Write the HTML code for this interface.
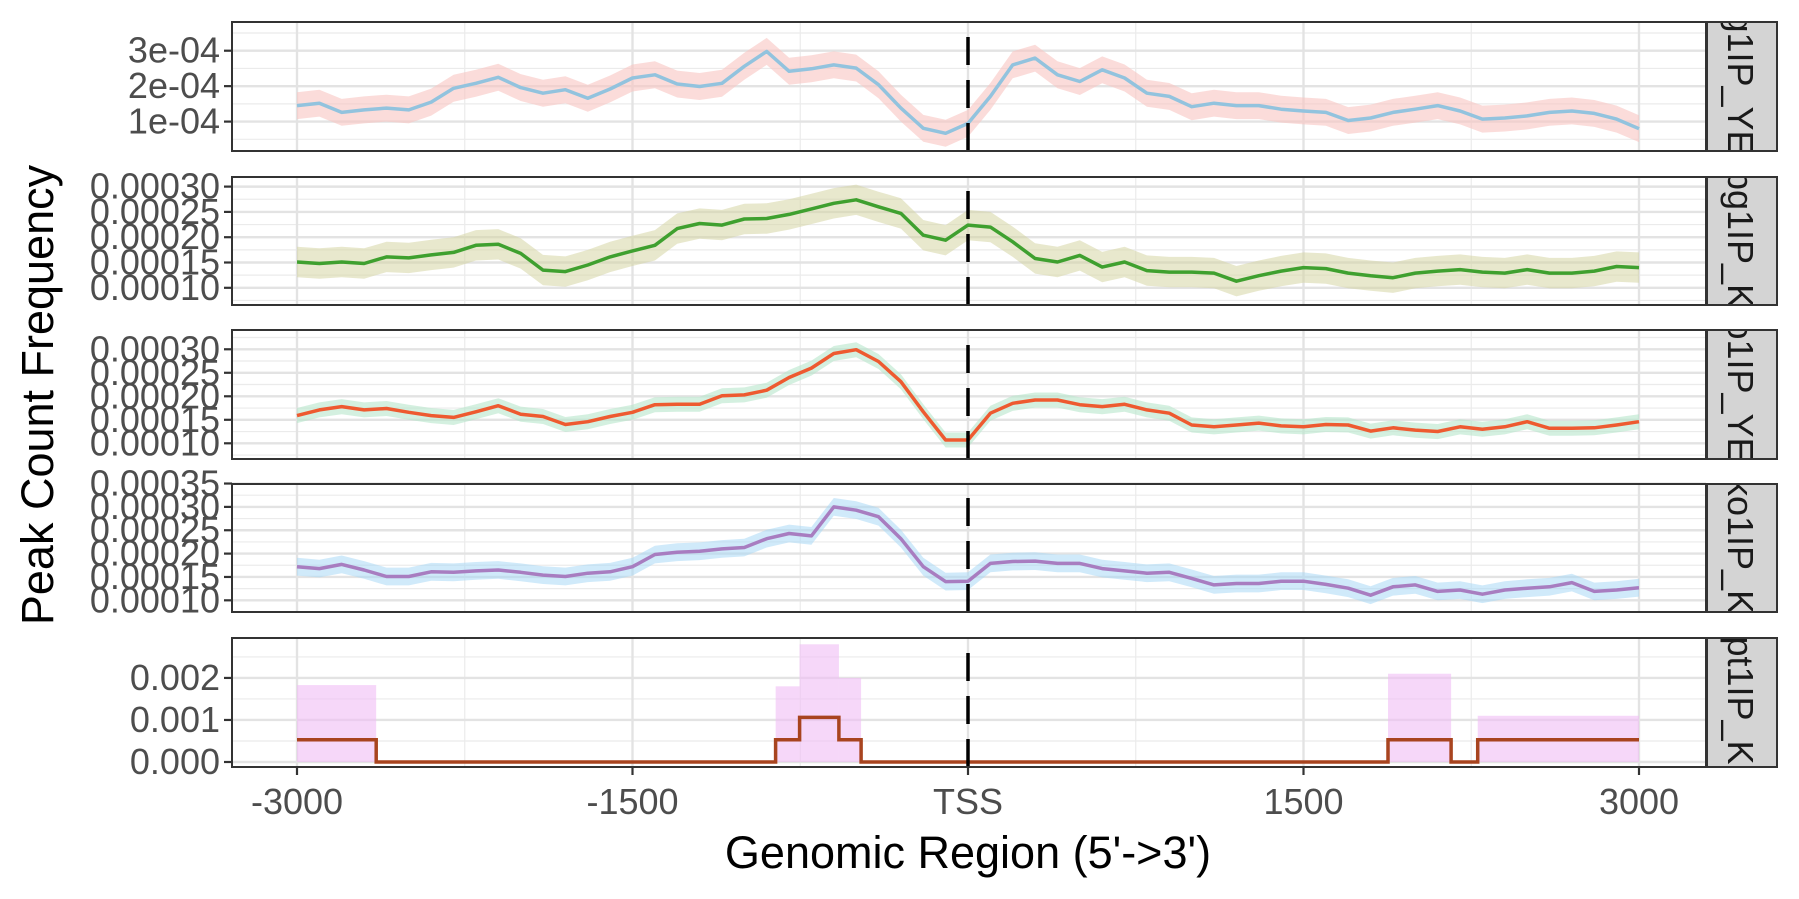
<!DOCTYPE html>
<html><head><meta charset="utf-8"><title>Peak Count Frequency profile</title>
<style>
html,body{margin:0;padding:0;background:#fff;}
svg{display:block;}
text{font-family:"Liberation Sans",Arial,sans-serif;}
</style></head>
<body>
<svg id="chart" width="1799" height="899" viewBox="0 0 1799 899" xmlns="http://www.w3.org/2000/svg">
<rect x="0" y="0" width="1799" height="899" fill="#fff"/>
<g id="panels"></g>
<text x="968" y="868" text-anchor="middle" font-size="45" fill="#000">Genomic Region (5'-&gt;3')</text>
<text transform="translate(53,395) rotate(-90)" text-anchor="middle" font-size="45" fill="#000">Peak Count Frequency</text>
</svg>
<script>
// ---- data ----
const positions = [-3000,-2900,-2800,-2700,-2600,-2500,-2400,-2300,-2200,-2100,-2000,-1900,-1800,-1700,-1600,-1500,-1400,-1300,-1200,-1100,-1000,-900,-800,-700,-600,-500,-400,-300,-200,-100,0,100,200,300,400,500,600,700,800,900,1000,1100,1200,1300,1400,1500,1600,1700,1800,1900,2000,2100,2200,2300,2400,2500,2600,2700,2800,2900,3000];
const xTickValues = [-3000,-1500,0,1500,3000];
const xTickLabels = ["-3000","-1500","TSS","1500","3000"];
const xMinorValues = [-2250,-750,750,2250];
const sampleNames = ["Spg1IP_YEPD","Spg1IP_KO","Sko1IP_YEPD","Sko1IP_KO","Apt1IP_KO"];
// series in units of 1e-4
const seriesP1 = [1.45,1.52,1.26,1.33,1.38,1.33,1.55,1.94,2.08,2.25,1.96,1.8,1.9,1.66,1.92,2.23,2.32,2.06,1.99,2.08,2.56,2.98,2.42,2.49,2.6,2.51,2.04,1.38,0.81,0.67,0.95,1.71,2.6,2.79,2.32,2.13,2.46,2.23,1.8,1.71,1.42,1.52,1.45,1.45,1.35,1.3,1.26,1.03,1.1,1.26,1.35,1.45,1.3,1.07,1.1,1.16,1.26,1.3,1.23,1.07,0.8];
const seriesP2 = [1.51,1.48,1.51,1.48,1.61,1.59,1.65,1.7,1.84,1.86,1.68,1.35,1.32,1.45,1.61,1.73,1.84,2.17,2.27,2.24,2.36,2.37,2.45,2.56,2.67,2.74,2.6,2.47,2.04,1.94,2.24,2.2,1.91,1.58,1.51,1.64,1.41,1.51,1.34,1.31,1.31,1.29,1.13,1.24,1.33,1.4,1.38,1.29,1.24,1.2,1.29,1.33,1.36,1.31,1.29,1.36,1.29,1.29,1.33,1.42,1.4];
const seriesP3 = [1.59,1.71,1.78,1.71,1.74,1.66,1.59,1.55,1.67,1.8,1.62,1.57,1.4,1.46,1.57,1.66,1.82,1.83,1.83,2.01,2.03,2.13,2.4,2.6,2.91,2.99,2.74,2.31,1.67,1.07,1.07,1.64,1.85,1.92,1.92,1.82,1.78,1.83,1.71,1.64,1.39,1.35,1.39,1.43,1.37,1.35,1.4,1.39,1.26,1.33,1.28,1.25,1.35,1.3,1.35,1.46,1.32,1.32,1.33,1.39,1.46];
const seriesP4 = [1.72,1.68,1.77,1.65,1.51,1.51,1.61,1.6,1.63,1.65,1.6,1.54,1.51,1.58,1.61,1.72,1.98,2.03,2.05,2.1,2.13,2.32,2.43,2.38,3.0,2.93,2.79,2.32,1.72,1.4,1.41,1.79,1.83,1.84,1.79,1.79,1.68,1.63,1.58,1.6,1.47,1.33,1.36,1.36,1.41,1.41,1.34,1.26,1.11,1.29,1.33,1.19,1.22,1.13,1.22,1.26,1.29,1.38,1.19,1.22,1.27];
const ribbonHalfWidth = [0.38,0.3,0.16,0.19];
// panel 5 step bins
const stepStart = [-3000,-2646,-860,-753,-577,-478,1878,2160,2279];
const stepEnd   = [-2646,-860,-753,-577,-478,1878,2160,2279,3000];
const stepValue = [0.00053,0,0.00053,0.00106,0.00053,0,0.00053,0,0.00053];
const stepUpper = [0.00183,0,0.0018,0.0028,0.0020,0,0.0021,0,0.0011];
// y ticks
const yTicksP1 = [1e-4,2e-4,3e-4];
const yLabelsP1 = ["1e-04","2e-04","3e-04"];
const yTicksP2 = [1e-4,1.5e-4,2e-4,2.5e-4,3e-4];
const yLabelsP2 = ["0.00010","0.00015","0.00020","0.00025","0.00030"];
const yTicksP4 = [1e-4,1.5e-4,2e-4,2.5e-4,3e-4,3.5e-4];
const yLabelsP4 = ["0.00010","0.00015","0.00020","0.00025","0.00030","0.00035"];
const yTicksP5 = [0,0.001,0.002];
const yLabelsP5 = ["0.000","0.001","0.002"];

// ---- layout ----
const NS = "http://www.w3.org/2000/svg";
const panelsG = document.getElementById('panels');
const L = 232, R = 1706;
const xs = v => 297 + (v + 3000) * (1639 - 297) / 6000;
const panels = [
  {top:22, bot:151, dom:[0.17e-4,3.81e-4], series:seriesP1, line:"#92C3DE", fill:"#F9C4C2", fillOp:0.6, ticks:yTicksP1, labels:yLabelsP1},
  {top:177, bot:305, dom:[0.66e-4,3.19e-4], series:seriesP2, line:"#3FA02F", fill:"#D6D6A4", fillOp:0.55, ticks:yTicksP2, labels:yLabelsP2},
  {top:330, bot:459, dom:[0.666e-4,3.41e-4], series:seriesP3, line:"#EE5A30", fill:"#B8E6CC", fillOp:0.6, ticks:yTicksP2, labels:yLabelsP2},
  {top:484, bot:612, dom:[0.75e-4,3.49e-4], series:seriesP4, line:"#A87DC0", fill:"#A9D8F5", fillOp:0.55, ticks:yTicksP4, labels:yLabelsP4},
  {top:638, bot:767, dom:[-0.000119,0.00295], series:null, line:"#A8441F", fill:"#F0BDF5", fillOp:0.6, ticks:yTicksP5, labels:yLabelsP5}
];
function mk(tag, attrs, parent){
  const e = document.createElementNS(NS, tag);
  for (const k in attrs) e.setAttribute(k, attrs[k]);
  (parent||panelsG).appendChild(e);
  return e;
}
panels.forEach((p, i) => {
  const ys = v => p.bot - (v - p.dom[0]) / (p.dom[1] - p.dom[0]) * (p.bot - p.top);
  const g = mk('g', {});
  
  
  mk('rect', {x:L, y:p.top, width:R-L, height:p.bot-p.top, fill:'#fff'}, g);
  const step = p.ticks[1] - p.ticks[0];
  for (let v = p.ticks[0] - step*4.5; v < p.dom[1]; v += step) {
    if (v <= p.dom[0]) continue;
    const l = mk('line', {x1:L, x2:R, y1:ys(v), y2:ys(v), stroke:'#EBEBEB', 'stroke-width':1.2}, g);
    
    
  }
  xMinorValues.forEach(v => {
    const l = mk('line', {x1:xs(v), x2:xs(v), y1:p.top, y2:p.bot, stroke:'#EBEBEB', 'stroke-width':1.2}, g);
    
    
  });
  p.ticks.forEach(v => {
    const l = mk('line', {x1:L, x2:R, y1:ys(v), y2:ys(v), stroke:'#E3E3E3', 'stroke-width':2.4}, g);
    
    
  });
  xTickValues.forEach(v => {
    const l = mk('line', {x1:xs(v), x2:xs(v), y1:p.top, y2:p.bot, stroke:'#E3E3E3', 'stroke-width':2.4}, g);
    
    
  });
  if (p.series) {
    const hw = ribbonHalfWidth[i];
    let up = '', lo = '';
    p.series.forEach((v, k) => { up += (k ? 'L' : 'M') + xs(positions[k]).toFixed(1) + ',' + ys((v + hw) * 1e-4).toFixed(1); });
    for (let k = p.series.length - 1; k >= 0; k--) lo += 'L' + xs(positions[k]).toFixed(1) + ',' + ys((p.series[k] - hw) * 1e-4).toFixed(1);
    const rib = mk('path', {d: up + lo + 'Z', fill:p.fill, 'fill-opacity':p.fillOp, stroke:'none'}, g);
    
    
    let d = '';
    p.series.forEach((v, k) => { d += (k ? 'L' : 'M') + xs(positions[k]).toFixed(1) + ',' + ys(v * 1e-4).toFixed(1); });
    const ln = mk('path', {d, fill:'none', stroke:p.line, 'stroke-width':3.5, 'stroke-linejoin':'round'}, g);
    
    
  } else {
    stepStart.forEach((s, k) => {
      if (stepUpper[k] > 0) {
        const r = mk('rect', {x:xs(s), y:ys(stepUpper[k]), width:xs(stepEnd[k]) - xs(s), height:ys(0) - ys(stepUpper[k]), fill:p.fill, 'fill-opacity':p.fillOp}, g);
        
        
      }
    });
    let d = '';
    stepStart.forEach((s, k) => {
      d += (k ? 'L' : 'M') + xs(s).toFixed(1) + ',' + ys(stepValue[k]).toFixed(1);
      d += 'L' + xs(stepEnd[k]).toFixed(1) + ',' + ys(stepValue[k]).toFixed(1);
    });
    const ln = mk('path', {d, fill:'none', stroke:p.line, 'stroke-width':3.5, 'stroke-linejoin':'miter'}, g);
    
    
  }
  const vl = mk('line', {x1:xs(0), x2:xs(0), y1:p.bot, y2:p.top, stroke:'#000', 'stroke-width':3.5, 'stroke-dasharray':'28 15'}, g);
  
  
  mk('rect', {x:L, y:p.top, width:R-L, height:p.bot-p.top, fill:'none', stroke:'#333', 'stroke-width':2}, g);
  p.ticks.forEach((v, k) => {
    const tk = mk('line', {x1:L-8, x2:L, y1:ys(v), y2:ys(v), stroke:'#333', 'stroke-width':2.2}, g);
    
    
    const t = mk('text', {x:L-12, y:ys(v)+12, 'text-anchor':'end', 'font-size':36, fill:'#4D4D4D'}, g);
    t.textContent = p.labels[k];
    
    
  });
  // strip
  const sg = mk('g', {}, g);
  
  
  const cid = 'clip' + i;
  const cp = mk('clipPath', {id:cid}, sg);
  mk('rect', {x:1707, y:p.top+1, width:70, height:p.bot-p.top-2}, cp);
  mk('rect', {x:1707, y:p.top, width:70, height:p.bot-p.top, fill:'#D4D4D4', stroke:'#333', 'stroke-width':2}, sg);
  const cg = mk('g', {'clip-path':'url(#' + cid + ')'}, sg);
  const cy = (p.top + p.bot) / 2;
  const st = mk('text', {transform:'translate(1728,' + cy + ') rotate(90)', 'text-anchor':'middle', 'font-size':36, fill:'#1A1A1A'}, cg);
  st.textContent = sampleNames[i];
  
  
});
const xg = mk('g', {});


xTickValues.forEach((v, k) => {
  const tk = mk('line', {x1:xs(v), x2:xs(v), y1:767, y2:775, stroke:'#333', 'stroke-width':2.2}, xg);
  
  
  const t = mk('text', {x:xs(v), y:814, 'text-anchor':'middle', 'font-size':36, fill:'#4D4D4D'}, xg);
  t.textContent = xTickLabels[k];
  
  
});
</script>
</body></html>
